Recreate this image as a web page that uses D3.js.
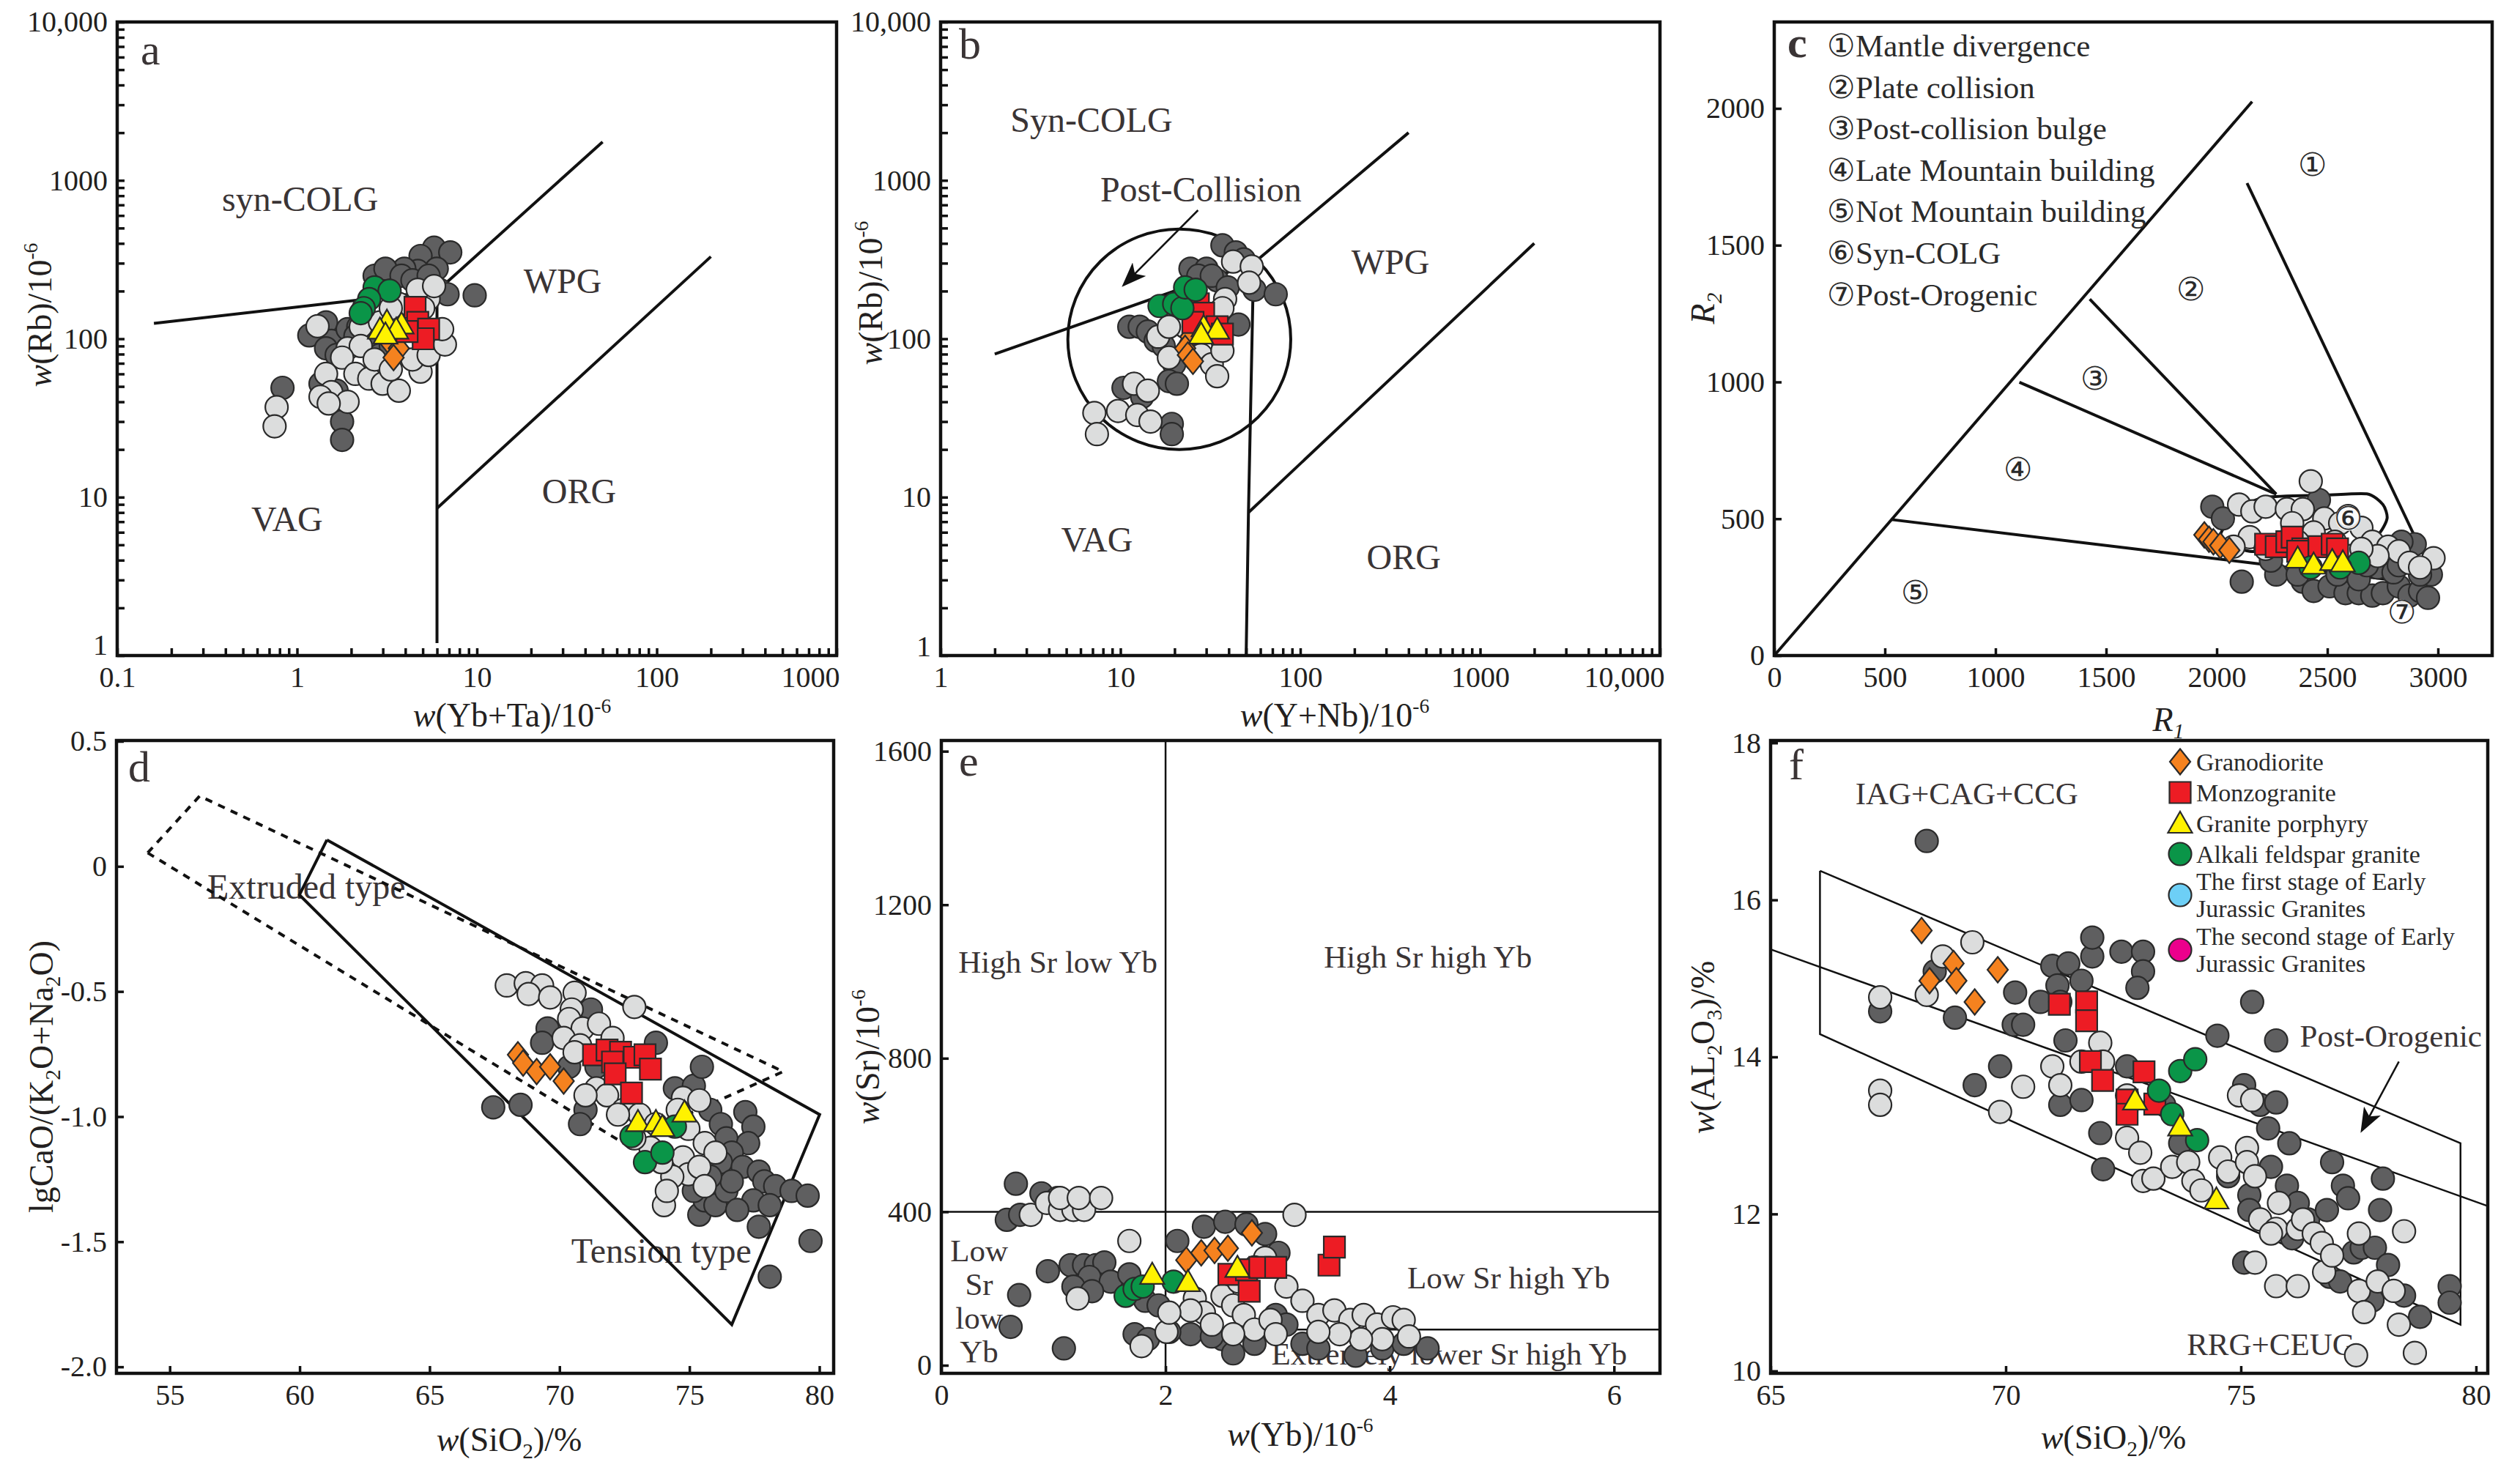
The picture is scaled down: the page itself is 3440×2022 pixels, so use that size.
<!DOCTYPE html>
<html>
<head>
<meta charset="utf-8">
<script src="https://cdn.jsdelivr.net/npm/d3@7"></script>
<style>
  body { margin: 0; background: #fff; }
  svg { display: block; font-family: "Liberation Serif", "Times New Roman", serif; }
</style>
</head>
<body>
<svg id="chart"></svg>
<script>
// ---- panel a : Rb vs Yb+Ta ----
var aDark = [[5.78,376],[7.11,351],[4.86,333],[5.98,277],[4.69,268],[3.95,277],[2.70,250],[3.10,277],[6.19,204],[6.87,191],[9.72,188],[1.45,127],[1.17,105],[1.55,97],[1.45,87],[1.91,115],[1.66,79],[1.35,52],[1.66,47],[0.83,49],[1.78,30],[1.78,23],[2.19,119],[2.52,104],[2.89,79],[3.32,90],[3.81,250],[4.38,234],[5.39,250],[2.11,104]];
var aLight = [[1.30,120],[2.26,119],[2.89,127],[1.91,87],[2.26,90],[1.78,76],[2.11,60],[1.45,60],[1.55,46],[1.35,43],[1.91,40],[1.50,39],[0.77,37],[0.75,28],[2.52,56],[2.99,52],[3.68,47],[4.86,62],[4.38,74],[5.39,79],[6.64,92],[6.41,115],[5.39,178],[4.69,204],[5.78,215],[3.68,166],[3.32,156],[5.03,156],[2.70,74],[3.32,64]];
var aOrange = [[3.56,107],[3.32,93],[3.68,87],[3.44,76]];
var aRed = [[4.53,158],[4.69,127],[5.39,115],[5.03,100],[4.09,111]];
var aGreen = [[2.70,211],[3.27,201],[2.52,178],[2.35,156],[2.26,145]];
var aYellow = [[3.16,129],[3.81,124],[2.89,115],[3.56,115],[3.10,107]];
var aLines = [[[0.16,125],[6,200]], [[6,200],[50,1750]], [[6,200],[6,1.2]], [[6,8.5],[200,330]]];
var aLabels = [["syn-COLG",1.04,768],["WPG",30,233],["ORG",37,11],["VAG",0.88,7.3]];

// ---- panel b : Rb vs Y+Nb ----
var bDark = [[36.9,389],[43.8,351],[48.5,317],[24.5,277],[30.1,277],[27.1,250],[34.5,234],[55.6,204],[73,191],[45.3,123],[11.2,119],[12.8,119],[14.2,111],[15.7,97],[19.9,69],[10.4,49],[18.6,54],[20.6,52],[13.2,43],[19.3,29],[19.3,25],[32.2,250],[39.5,211],[17.4,90]];
var bLight = [[42.3,307],[53.7,286],[51.9,226],[38.2,178],[36.9,156],[19.9,127],[16.2,103],[18.6,76],[24.5,90],[28.1,79],[32.2,69],[36.9,84],[34.5,58],[9.7,35],[7.16,34],[7.40,25],[11.9,52],[12.4,33],[14.7,30],[14.2,47],[22.9,119],[18.6,119]];
var bOrange = [[24.5,103],[22.9,87],[23.7,79],[25.3,72]];
var bRed = [[27.1,166],[29.0,145],[34.5,119],[36.9,107],[25.3,127]];
var bGreen = [[16.5,161],[19.9,166],[22.1,156],[22.9,211],[26.2,204]];
var bYellow = [[29.0,119],[34.5,115],[28.1,107]];
var bLines = [[[2,80],[55,300]], [[55,300],[400,2000]], [[55,300],[51.5,8],[50,1]], [[51.5,8],[2000,400]]];
var bEllipseX = [5.1, 88.5], bEllipseY = [20, 493];
var bArrow = [[27,648],[10.4,218]];
var bLabels = [["Syn-COLG",6.9,2434],["Post-Collision",28,879],["WPG",317,307],["VAG",7.4,5.4],["ORG",376,4.2]];

// ---- panel c : R1-R2 ----
var cDark = [[1980,544],[2028,501],[2113,270],[2269,296],[2389,270],[2438,236],[2510,253],[2582,228],[2642,228],[2703,219],[2751,228],[2823,253],[2871,219],[2919,236],[2955,211],[2968,296],[2895,407],[2727,322],[2462,569],[2366,296],[2546,296],[2642,279],[2799,304],[2835,416],[2679,330],[2245,347],[2919,296],[2823,330]];
var cLight = [[2425,637],[2101,552],[2161,527],[2221,544],[2317,535],[2389,535],[2486,501],[2558,484],[2654,467],[2594,510],[2703,416],[2775,398],[2823,381],[2871,339],[2980,356],[2149,433],[2221,390],[2438,450],[2534,416],[2727,364],[2606,364],[2341,484],[2076,398],[2919,322],[2366,416],[2654,390]];
var cOrange = [[1944,441],[1965,425],[1985,416],[2016,402],[2057,385]];
var cRed = [[2221,407],[2269,398],[2317,416],[2341,433],[2389,390],[2462,398],[2522,407],[2546,390],[2366,381]];
var cGreen = [[2642,339],[2425,322],[2558,322]];
var cYellow = [[2366,356],[2438,334],[2522,347],[2570,342]];
var cLines = [[[0,0],[2160,2025]], [[2137,1727],[2992,270]], [[1426,1303],[2269,590]], [[1108,999],[2269,590]], [[530,497],[2859,270]]];
var cLoop = [[2016,433],[2100,536],[2221,578],[2486,586],[2679,591],[2751,552],[2770,501],[2727,441],[2606,402],[2366,390],[2149,381]];
var cNums = [["\u2460",2433,1795],["\u2461",1884,1341],["\u2462",1450,1013],["\u2463",1101,680],["\u2464",636,231]];
var cNumsTop = [["\u2465",2594,501],["\u2466",2835,159]];
var cLegend = ["\u2460Mantle divergence","\u2461Plate collision","\u2462Post-collision bulge","\u2463Late Mountain building","\u2464Not Mountain building","\u2465Syn-COLG","\u2466Post-Orogenic"];

// ---- panel d : lgCaO/(K2O+Na2O) vs SiO2 ----
var dDark = [[67.45,-0.963],[68.50,-0.953],[69.54,-0.648],[70.37,-0.801],[69.33,-0.705],[71.21,-0.572],[71.42,-0.801],[73.71,-0.705],[71.00,-0.973],[70.79,-1.030],[74.44,-0.887],[75.17,-0.877],[75.48,-0.801],[75.80,-0.973],[76.21,-1.030],[76.42,-1.087],[77.15,-0.982],[77.46,-1.040],[77.26,-1.106],[76.63,-1.144],[76.21,-1.182],[77.05,-1.201],[77.67,-1.220],[77.88,-1.259],[78.30,-1.278],[78.93,-1.297],[79.55,-1.316],[77.46,-1.335],[78.09,-1.354],[77.67,-1.440],[75.38,-1.392],[75.59,-1.335],[76.00,-1.354],[76.42,-1.297],[76.63,-1.259],[75.80,-1.240],[75.17,-1.297],[76.84,-1.373],[79.66,-1.497],[78.09,-1.640]];
var dLight = [[67.97,-0.476],[68.70,-0.467],[69.33,-0.476],[68.81,-0.510],[69.64,-0.524],[70.58,-0.505],[70.47,-0.572],[70.37,-0.610],[70.89,-0.648],[71.52,-0.629],[70.16,-0.686],[70.79,-0.715],[70.58,-0.743],[72.88,-0.562],[72.04,-0.686],[71.42,-0.887],[71.83,-0.915],[72.46,-0.973],[73.08,-0.992],[73.71,-1.030],[74.75,-0.925],[75.38,-0.935],[74.55,-0.973],[74.96,-1.049],[75.59,-1.106],[76.00,-1.144],[74.75,-1.163],[74.96,-1.230],[74.34,-1.240],[74.02,-1.354],[74.13,-1.297],[75.38,-1.201],[75.59,-1.278],[73.50,-1.125],[72.88,-1.087],[71.00,-0.915],[72.25,-0.992],[73.92,-1.182]];
var dOrange = [[68.40,-0.753],[68.60,-0.786],[69.12,-0.820],[69.64,-0.801],[70.16,-0.858]];
var dRed = [[71.31,-0.753],[71.83,-0.734],[72.35,-0.743],[72.88,-0.763],[73.29,-0.753],[72.04,-0.782],[73.50,-0.810],[72.14,-0.829],[72.77,-0.906]];
var dGreen = [[72.77,-1.078],[73.29,-1.182],[73.96,-1.144],[74.44,-1.040]];
var dYellow = [[73.02,-1.020],[73.71,-1.020],[73.96,-1.040],[74.81,-0.982]];
var dSolid = [[61.05,0.106],[59.99,-0.114],[76.63,-1.831],[80.01,-0.992]];
var dDashed = [[54.15,0.054],[56.15,0.281],[78.61,-0.820],[72.46,-1.106]];
var dLabels = [["Extruded type",60.26,-0.079],["Tension type",73.92,-1.535]];

// ---- panel e : Sr vs Yb ----
var eDark = [[0.665,473],[0.584,379],[0.703,392],[0.893,448],[1.036,436],[0.950,245],[0.694,183],[0.618,100],[1.093,44],[1.154,261],[1.273,261],[1.378,261],[1.454,268],[1.321,230],[1.511,218],[1.178,205],[1.344,193],[1.677,237],[1.819,168],[1.938,156],[1.724,81],[1.843,68],[2.105,324],[2.342,361],[2.532,374],[2.722,367],[2.888,342],[3.007,293],[2.983,131],[3.078,106],[2.508,68],[2.603,31],[2.793,56],[3.221,56],[3.363,44],[3.696,25],[3.933,44],[4.124,56],[4.337,44],[2.223,81],[2.413,75],[2.033,87]];
var eLight = [[0.798,392],[0.941,423],[1.059,405],[1.178,405],[1.273,405],[1.059,436],[1.226,436],[1.425,436],[1.677,324],[1.216,174],[1.786,50],[2.009,87],[2.261,174],[2.342,137],[2.508,181],[2.603,156],[2.698,131],[2.793,93],[2.936,118],[3.078,205],[3.221,168],[3.363,131],[3.506,143],[3.648,118],[3.767,131],[3.886,106],[4.029,125],[4.124,118],[3.933,68],[3.743,68],[3.553,81],[3.363,87],[3.150,392],[2.888,280],[2.223,143],[2.033,137],[2.651,218],[2.793,255],[2.413,106],[2.603,81],[2.983,81],[4.171,75]];
var eOrange = [[2.185,274],[2.318,293],[2.437,299],[2.556,305],[2.770,345]];
var eRed = [[2.565,237],[2.722,249],[2.841,255],[2.983,255],[2.746,193],[3.458,261],[3.506,308]];
var eGreen = [[1.644,181],[1.724,199],[1.796,205],[2.071,218]];
var eYellow = [[1.881,237],[2.200,218],[2.641,255]];
var eLines = [[[2,-21],[2,1628]], [[0,400],[6.41,400]], [[2,93],[6.41,93]]];
var eLabels = [["High Sr low Yb",1.04,1052],["High Sr high Yb",4.34,1065],["Low Sr high Yb",5.06,230],["Extremely lower Sr high Yb",4.53,31],["Low",0.337,299],["Sr",0.337,212],["low",0.337,125],["Yb",0.337,37]];

// ---- panel f : Al2O3 vs SiO2 ----
var fDark = [[68.32,16.75],[68.49,15.09],[67.33,14.58],[68.92,14.50],[69.88,13.88],[69.34,13.64],[70.20,14.82],[70.17,14.41],[70.37,14.41],[70.74,14.70],[70.99,15.16],[71.33,15.19],[71.61,14.97],[71.84,15.28],[71.84,15.52],[71.10,14.91],[71.16,14.70],[71.27,14.21],[71.16,13.39],[71.61,13.45],[72.01,13.03],[72.07,12.57],[72.46,15.34],[72.92,15.34],[72.92,15.09],[72.80,14.88],[72.58,13.88],[73.37,13.39],[73.71,12.90],[74.50,14.27],[75.24,14.70],[75.07,13.64],[75.41,13.39],[75.75,14.21],[75.75,13.42],[75.58,13.09],[75.64,12.60],[76.03,12.90],[75.98,12.36],[75.18,12.24],[76.09,11.69],[76.43,11.93],[76.83,12.05],[76.94,12.66],[77.17,12.36],[77.28,12.20],[77.40,11.51],[77.57,11.57],[77.85,11.57],[77.96,12.05],[78.02,12.45],[78.13,11.35],[77.80,10.90],[78.47,10.96],[78.81,10.69],[79.44,11.08],[79.44,10.87],[76.89,11.20],[77.11,11.14],[75.07,11.38],[76.21,12.14],[74.73,12.48],[75.18,12.05]];
var fLight = [[67.33,14.76],[67.33,13.57],[67.33,13.39],[68.66,15.28],[68.32,14.79],[69.29,15.46],[69.88,13.30],[70.37,13.62],[70.99,13.88],[71.16,13.64],[71.61,13.94],[72.01,14.18],[72.07,13.94],[72.58,13.51],[72.58,12.97],[72.86,12.78],[72.92,12.42],[73.14,12.45],[73.54,12.60],[73.88,12.66],[73.99,12.42],[74.16,12.30],[74.56,12.72],[74.73,12.54],[74.96,13.51],[75.24,13.45],[75.13,12.84],[75.13,12.66],[75.30,12.48],[75.41,11.93],[75.75,11.81],[75.81,12.14],[75.64,11.75],[76.21,11.81],[76.32,11.93],[76.55,11.75],[76.72,11.63],[76.77,11.26],[76.94,11.47],[77.51,11.75],[77.51,11.02],[77.62,10.75],[77.91,11.14],[78.25,11.02],[78.36,10.59],[78.47,11.78],[77.45,10.20],[78.70,10.23],[75.30,11.38],[75.75,11.08],[76.21,11.08]];
var fOrange = [[68.21,15.61],[68.38,14.97],[68.89,15.19],[68.95,14.97],[69.34,14.70],[69.83,15.11]];
var fRed = [[71.14,14.67],[71.72,14.70],[71.72,14.46],[71.80,13.94],[72.06,13.70],[72.94,13.81],[72.58,13.45],[72.58,13.27],[73.17,13.40]];
var fGreen = [[73.26,13.57],[73.71,13.82],[74.03,13.97],[73.54,13.27],[74.07,12.94]];
var fYellow = [[72.75,13.45],[73.71,13.12],[74.48,12.19]];
var fLines = [[[66.05,16.37],[79.67,12.90],[79.67,10.59],[66.05,14.29],[66.05,16.37]], [[65,15.37],[80.25,12.1]]];
var fArrow = [[78.36,13.94],[77.57,13.06]];
var fLabels = [["IAG+CAG+CCG",69.17,17.36],["Post-Orogenic",78.19,14.27],["RRG+CEUG",75.64,10.34]];
var legendNames = [["Granodiorite"],["Monzogranite"],["Granite porphyry"],["Alkali feldspar granite"],["The first stage of Early","Jurassic Granites"],["The second stage of Early","Jurassic Granites"]];

var C = { dark: "#5f5f60", light: "#dcdddd", orange: "#f5821f", red: "#ed1c24", yellow: "#fff200", green: "#0a9548", blue: "#6dcff6", pink: "#ec008c", ink: "#231f20" };
var shapes = {
    circle: "M15.5,0A15.5,15.5 0 1,1 -15.5,0A15.5,15.5 0 1,1 15.5,0Z",
    square: "M-14.5,-14.5H14.5V14.5H-14.5Z",
    diamond: "M0,-17.5L14,0L0,17.5L-14,0Z",
    triangle: "M0,-16L16.5,13L-16.5,13Z"
};

var svg = d3.select("#chart").attr("width", 3440).attr("height", 2022);
svg.append("rect").attr("width", 3440).attr("height", 2022).attr("fill", "#fff");

var defs = svg.append("defs");
var mk = defs.append("marker").attr("id", "arrowBig").attr("viewBox", "0 0 10 10")
    .attr("refX", 9).attr("refY", 5).attr("markerWidth", 34).attr("markerHeight", 26)
    .attr("orient", "auto").attr("markerUnits", "userSpaceOnUse").attr("preserveAspectRatio", "none");
mk.append("path").attr("d", "M0,0L10,5L0,10L2.5,5Z").attr("fill", "#111");

function panel(box, xs, ys) {
    var p = { box: box, g: svg.append("g") };
    p.x = xs.range([box.left, box.right]);
    p.y = ys.range([box.bottom, box.top]);
    p.back = p.g.append("g");
    p.marks = p.g.append("g");
    p.front = p.g.append("g");
    return p;
}

function axes(p, xTicks, xFmt, yTicks, yFmt) {
    var ax = p.front.append("g").attr("transform", "translate(0," + p.box.bottom + ")")
        .call(d3.axisBottom(p.x).tickValues(xTicks).tickFormat(xFmt).tickSizeInner(-10).tickSizeOuter(0).tickPadding(15));
    var ay = p.front.append("g").attr("transform", "translate(" + p.box.left + ",0)")
        .call(d3.axisLeft(p.y).tickValues(yTicks).tickFormat(yFmt).tickSizeInner(-10).tickSizeOuter(0).tickPadding(13));
    [ax, ay].forEach(function (a) {
        a.select(".domain").remove();
        a.attr("font-family", null).attr("font-size", 40);
        a.selectAll("line").attr("stroke", "#111").attr("stroke-width", 3.5);
        a.selectAll("text").attr("fill", C.ink);
    });
    p.front.append("rect")
        .attr("x", p.box.left).attr("y", p.box.top)
        .attr("width", p.box.right - p.box.left).attr("height", p.box.bottom - p.box.top)
        .attr("fill", "none").attr("stroke", "#111").attr("stroke-width", 4.5);
    return { x: ax, y: ay };
}

function logFmt(d) {
    var l = Math.log10(d);
    if (Math.abs(l - Math.round(l)) > 1e-6) return "";
    return d >= 10000 ? d3.format(",")(d) : String(+d.toPrecision(3));
}

function lines(p, data, width, dash) {
    var line = d3.line().x(function (d) { return p.x(d[0]); }).y(function (d) { return p.y(d[1]); });
    data.forEach(function (l) {
        p.back.append("path").datum(l).attr("d", line)
            .attr("fill", "none").attr("stroke", "#111").attr("stroke-width", width)
            .attr("stroke-dasharray", dash || null).attr("stroke-linejoin", "miter");
    });
}

function labels(p, data, size) {
    data.forEach(function (d) {
        p.back.append("text").attr("x", p.x(d[1])).attr("y", p.y(d[2])).attr("dy", "0.35em")
            .attr("text-anchor", "middle").attr("font-size", size).attr("fill", "#3a3435").text(d[0]);
    });
}

function points(p, data, shape, fill) {
    p.marks.append("g").selectAll("path").data(data).join("path")
        .attr("transform", function (d) { return "translate(" + p.x(d[0]) + "," + p.y(d[1]) + ")"; })
        .attr("d", shapes[shape]).attr("fill", fill)
        .attr("stroke", "#2a2a2a").attr("stroke-width", 2.2);
}

function allPoints(p, dark, light, orange, red, green, yellow) {
    points(p, dark, "circle", C.dark);
    points(p, light, "circle", C.light);
    points(p, orange, "diamond", C.orange);
    points(p, red, "square", C.red);
    points(p, green, "circle", C.green);
    points(p, yellow, "triangle", C.yellow);
}

function rich(parent, x, y, parts, size, rotate) {
    var t = parent.append("text").attr("x", x).attr("y", y).attr("font-size", size)
        .attr("text-anchor", "middle").attr("fill", C.ink);
    if (rotate) t.attr("transform", "rotate(-90," + x + "," + y + ")");
    var shift = 0;
    parts.forEach(function (q) {
        var s = t.append("tspan").text(q.t);
        var target = 0;
        if (q.sup) { target = -0.42 * size; s.attr("font-size", size * 0.6); }
        if (q.sub) { target = 0.22 * size; s.attr("font-size", size * 0.64); }
        if (target !== shift) s.attr("dy", target - shift);
        shift = target;
        if (q.it) s.attr("font-style", "italic");
    });
    return t;
}

function letter(p, txt, x, y, bold) {
    p.front.append("text").attr("x", x).attr("y", y).attr("font-size", 60)
        .attr("font-weight", bold ? "bold" : null).attr("fill", "#3a3435").text(txt);
}

var W = { t: "w", it: true };
var SUP6 = { t: "-6", sup: true };

// ---------- a ----------
var pa = panel({ left: 160, right: 1142, top: 30, bottom: 895 },
    d3.scaleLog().domain([0.1, 1000]), d3.scaleLog().domain([1, 10000]));
lines(pa, aLines, 4);
labels(pa, aLabels, 48);
allPoints(pa, aDark, aLight, aOrange, aRed, aGreen, aYellow);
var axA = axes(pa, pa.x.ticks(), logFmt, pa.y.ticks(), logFmt);
axA.x.selectAll("text").filter(function (d) { return d === 1000; }).attr("text-anchor", "end").attr("x", 4);
axA.y.selectAll("text").filter(function (d) { return d === 1; }).attr("y", -14);
letter(pa, "a", 192, 88);
rich(svg, 699, 992, [W, { t: "(Yb+Ta)/10" }, SUP6], 46);
rich(svg, 70, 430, [W, { t: "(Rb)/10" }, SUP6], 46, true);

// ---------- b ----------
var pb = panel({ left: 1284, right: 2266, top: 30, bottom: 895 },
    d3.scaleLog().domain([1, 10000]), d3.scaleLog().domain([1, 10000]));
lines(pb, bLines, 4);
pb.back.append("ellipse")
    .attr("cx", (pb.x(bEllipseX[0]) + pb.x(bEllipseX[1])) / 2)
    .attr("cy", (pb.y(bEllipseY[0]) + pb.y(bEllipseY[1])) / 2)
    .attr("rx", (pb.x(bEllipseX[1]) - pb.x(bEllipseX[0])) / 2)
    .attr("ry", (pb.y(bEllipseY[0]) - pb.y(bEllipseY[1])) / 2)
    .attr("fill", "none").attr("stroke", "#111").attr("stroke-width", 4);
pb.back.append("line")
    .attr("x1", pb.x(bArrow[0][0])).attr("y1", pb.y(bArrow[0][1]))
    .attr("x2", pb.x(bArrow[1][0])).attr("y2", pb.y(bArrow[1][1]))
    .attr("stroke", "#111").attr("stroke-width", 2.5)
    .attr("marker-end", "url(#arrowBig)");
labels(pb, bLabels, 48);
allPoints(pb, bDark, bLight, bOrange, bRed, bGreen, bYellow);
var axB = axes(pb, pb.x.ticks(), logFmt, pb.y.ticks(), logFmt);
axB.x.selectAll("text").filter(function (d) { return d === 10000; }).attr("text-anchor", "end").attr("x", 6);
axB.y.selectAll("text").filter(function (d) { return d === 1; }).attr("y", -12);
letter(pb, "b", 1309, 80);
rich(svg, 1822, 992, [W, { t: "(Y+Nb)/10" }, SUP6], 46);
rich(svg, 1204, 400, [W, { t: "(Rb)/10" }, SUP6], 46, true);

// ---------- c ----------
var pc = panel({ left: 2422, right: 3402, top: 30, bottom: 895 },
    d3.scaleLinear().domain([0, 3245]), d3.scaleLinear().domain([0, 2316]));
lines(pc, cLines, 4);
pc.back.append("path").datum(cLoop)
    .attr("d", d3.line().curve(d3.curveCardinalClosed.tension(0.3))
        .x(function (d) { return pc.x(d[0]); }).y(function (d) { return pc.y(d[1]); }))
    .attr("fill", "none").attr("stroke", "#111").attr("stroke-width", 4);
cNums.forEach(function (d) {
    pc.back.append("text").attr("x", pc.x(d[1])).attr("y", pc.y(d[2])).attr("dy", "0.35em")
        .attr("text-anchor", "middle").attr("font-size", 44).attr("fill", "#2a2a2a").text(d[0]);
});
allPoints(pc, cDark, cLight, cOrange, cRed, cGreen, cYellow);
cNumsTop.forEach(function (d) {
    pc.marks.append("circle").attr("cx", pc.x(d[1])).attr("cy", pc.y(d[2]))
        .attr("r", 17).attr("fill", "#fff").attr("fill-opacity", 0.85);
    pc.marks.append("text").attr("x", pc.x(d[1])).attr("y", pc.y(d[2])).attr("dy", "0.35em")
        .attr("text-anchor", "middle").attr("font-size", 44).attr("fill", "#2a2a2a").text(d[0]);
});
axes(pc, d3.range(0, 3001, 500), d3.format("d"), d3.range(0, 2001, 500), d3.format("d"));
letter(pc, "c", 2440, 78, true);
cLegend.forEach(function (t, i) {
    pc.front.append("text").attr("x", 2494).attr("y", 62 + i * 56.6).attr("dy", "0.35em")
        .attr("font-size", 43).attr("fill", "#2a2a2a").text(t);
});
rich(svg, 2960, 998, [{ t: "R", it: true }, { t: "1", sub: true, it: true }], 46);
rich(svg, 2340, 421, [{ t: "R", it: true }, { t: "2", sub: true, it: true }], 46, true);

// ---------- d ----------
var pd = panel({ left: 159, right: 1138, top: 1011, bottom: 1875 },
    d3.scaleLinear().domain([52.95, 80.55]), d3.scaleLinear().domain([-2.026, 0.503]));
var poly = d3.line().x(function (d) { return pd.x(d[0]); }).y(function (d) { return pd.y(d[1]); });
labels(pd, dLabels, 48);
pd.back.append("path").datum(dDashed.concat([dDashed[0]])).attr("d", poly)
    .attr("fill", "none").attr("stroke", "#111").attr("stroke-width", 4).attr("stroke-dasharray", "10,9");
pd.back.append("path").datum(dSolid.concat([dSolid[0]])).attr("d", poly)
    .attr("fill", "none").attr("stroke", "#111").attr("stroke-width", 4);
allPoints(pd, dDark, dLight, dOrange, dRed, dGreen, dYellow);
axes(pd, d3.range(55, 81, 5), d3.format("d"), [0.5, 0, -0.5, -1, -1.5, -2],
    function (d) { return d === 0 ? "0" : d.toFixed(1); });
letter(pd, "d", 175, 1067);
rich(svg, 695, 1981, [W, { t: "(SiO" }, { t: "2", sub: true }, { t: ")/%" }], 46);
rich(svg, 72, 1470, [{ t: "lgCaO/(K" }, { t: "2", sub: true }, { t: "O+Na" }, { t: "2", sub: true }, { t: "O)" }], 46, true);

// ---------- e ----------
var pe = panel({ left: 1285, right: 2266, top: 1011, bottom: 1875 },
    d3.scaleLinear().domain([0, 6.41]), d3.scaleLinear().domain([-21, 1628]));
lines(pe, eLines, 2.5);
labels(pe, eLabels, 43);
allPoints(pe, eDark, eLight, eOrange, eRed, eGreen, eYellow);
axes(pe, [0, 2, 4, 6], d3.format("d"), [0, 400, 800, 1200, 1600], d3.format("d"));
letter(pe, "e", 1309, 1059);
rich(svg, 1775, 1974, [W, { t: "(Yb)/10" }, SUP6], 46);
rich(svg, 1200, 1443, [W, { t: "(Sr)/10" }, SUP6], 46, true);

// ---------- f ----------
var pf = panel({ left: 2417, right: 3396, top: 1011, bottom: 1875 },
    d3.scaleLinear().domain([65, 80.25]), d3.scaleLinear().domain([9.97, 18.03]));
lines(pf, fLines, 2.5);
pf.back.append("line")
    .attr("x1", pf.x(fArrow[0][0])).attr("y1", pf.y(fArrow[0][1]))
    .attr("x2", pf.x(fArrow[1][0])).attr("y2", pf.y(fArrow[1][1]))
    .attr("stroke", "#111").attr("stroke-width", 2.5).attr("marker-end", "url(#arrowBig)");
labels(pf, fLabels, 43);
allPoints(pf, fDark, fLight, fOrange, fRed, fGreen, fYellow);
axes(pf, [65, 70, 75, 80], d3.format("d"), [10, 12, 14, 16, 18], d3.format("d"));
letter(pf, "f", 2442, 1064);
rich(svg, 2885, 1978, [W, { t: "(SiO" }, { t: "2", sub: true }, { t: ")/%" }], 46);
rich(svg, 2340, 1430, [W, { t: "(AL" }, { t: "2", sub: true }, { t: "O" }, { t: "3", sub: true }, { t: ")/%" }], 46, true);

// legend: one text element per entry, wrapped entries use tspans
var legShapes = ["diamond", "square", "triangle", "circle", "circle", "circle"];
var legFills = [C.orange, C.red, C.yellow, C.green, C.blue, C.pink];
var legY = [1040, 1082, 1124, 1166, 1222, 1297];
legendNames.forEach(function (names, i) {
    pf.front.append("path").attr("d", shapes[legShapes[i]])
        .attr("transform", "translate(2976," + legY[i] + ")")
        .attr("fill", legFills[i]).attr("stroke", "#2a2a2a").attr("stroke-width", 2.2);
    var t = pf.front.append("text").attr("font-size", 34).attr("fill", "#2a2a2a");
    names.forEach(function (n, j) {
        var yy = names.length === 1 ? legY[i] : legY[i] - 18.5 + j * 37;
        t.append("tspan").attr("x", 2998).attr("y", yy).attr("dy", "0.35em").text(n);
    });
});
</script>
</body>
</html>
